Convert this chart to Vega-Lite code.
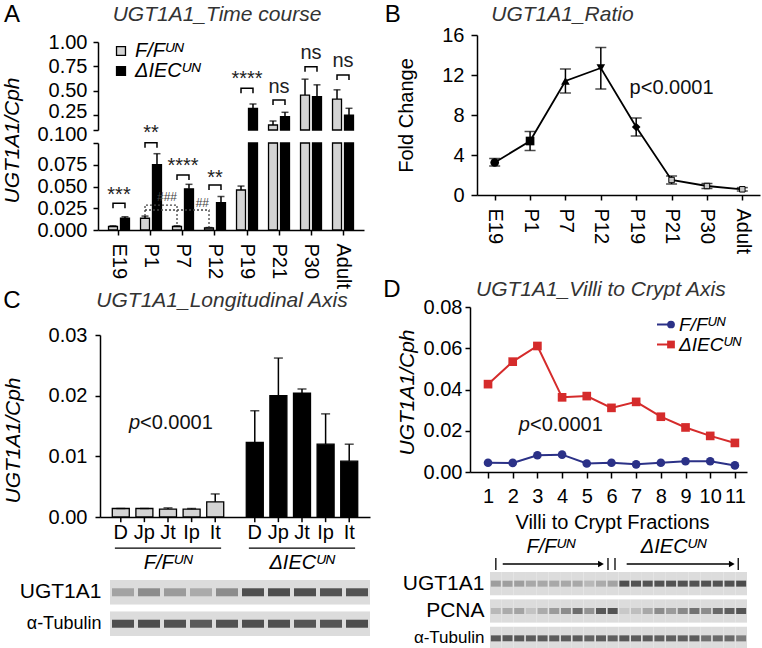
{
"$schema": "https://vega.github.io/schema/vega-lite/v6.json",
"width": 762, "height": 648,
"autosize": {"type": "none"},
"padding": 0,
"background": "#ffffff",
"config": {
  "view": {"stroke": null},
  "font": "Liberation Sans",
  "axis": {"labelFont": "Liberation Sans", "titleFont": "Liberation Sans", "labelFontSize": 20, "titleFontSize": 21, "titleFontWeight": "normal", "labelColor": "#000", "titleColor": "#000", "domainColor": "#000", "tickColor": "#000", "domainWidth": 1.5, "tickWidth": 1.5, "grid": false, "labelOverlap": false, "labelFlush": false},
  "text": {"font": "Liberation Sans"}
},
"datasets": {
  "a": [
    {"t":"E19","g":"F/F","v":0.004,"top":0.0048},
    {"t":"E19","g":"ΔIEC","v":0.0135,"top":0.0152},
    {"t":"P1","g":"F/F","v":0.0135,"top":0.016},
    {"t":"P1","g":"ΔIEC","v":0.075,"top":0.0877},
    {"t":"P7","g":"F/F","v":0.004,"top":0.0048},
    {"t":"P7","g":"ΔIEC","v":0.0473,"top":0.0525},
    {"t":"P12","g":"F/F","v":0.0023,"top":0.0028},
    {"t":"P12","g":"ΔIEC","v":0.0315,"top":0.0385},
    {"t":"P19","g":"F/F","v":0.046,"top":0.0505},
    {"t":"P19","g":"ΔIEC","v":0.322,"top":0.366},
    {"t":"P21","g":"F/F","v":0.151,"top":0.192},
    {"t":"P21","g":"ΔIEC","v":0.236,"top":0.281},
    {"t":"P30","g":"F/F","v":0.457,"top":0.62},
    {"t":"P30","g":"ΔIEC","v":0.44,"top":0.562},
    {"t":"Adult","g":"F/F","v":0.416,"top":0.511},
    {"t":"Adult","g":"ΔIEC","v":0.253,"top":0.322}
  ],
  "abr": [
    {"p":"lo","id":"E19","t":"E19","g":"F/F","y":0.025,"o":1},
    {"p":"lo","id":"E19","t":"E19","g":"F/F","y":0.0307,"o":2},
    {"p":"lo","id":"E19","t":"E19","g":"ΔIEC","y":0.0307,"o":3},
    {"p":"lo","id":"E19","t":"E19","g":"ΔIEC","y":0.025,"o":4},
    {"p":"lo","id":"P1","t":"P1","g":"F/F","y":0.0946,"o":1},
    {"p":"lo","id":"P1","t":"P1","g":"F/F","y":0.1003,"o":2},
    {"p":"lo","id":"P1","t":"P1","g":"ΔIEC","y":0.1003,"o":3},
    {"p":"lo","id":"P1","t":"P1","g":"ΔIEC","y":0.0946,"o":4},
    {"p":"lo","id":"P7","t":"P7","g":"F/F","y":0.0575,"o":1},
    {"p":"lo","id":"P7","t":"P7","g":"F/F","y":0.0632,"o":2},
    {"p":"lo","id":"P7","t":"P7","g":"ΔIEC","y":0.0632,"o":3},
    {"p":"lo","id":"P7","t":"P7","g":"ΔIEC","y":0.0575,"o":4},
    {"p":"lo","id":"P12","t":"P12","g":"F/F","y":0.046,"o":1},
    {"p":"lo","id":"P12","t":"P12","g":"F/F","y":0.0517,"o":2},
    {"p":"lo","id":"P12","t":"P12","g":"ΔIEC","y":0.0517,"o":3},
    {"p":"lo","id":"P12","t":"P12","g":"ΔIEC","y":0.046,"o":4},
    {"p":"up","id":"P19","t":"P19","g":"F/F","y":0.475,"o":1},
    {"p":"up","id":"P19","t":"P19","g":"F/F","y":0.526,"o":2},
    {"p":"up","id":"P19","t":"P19","g":"ΔIEC","y":0.526,"o":3},
    {"p":"up","id":"P19","t":"P19","g":"ΔIEC","y":0.475,"o":4},
    {"p":"up","id":"P21","t":"P21","g":"F/F","y":0.356,"o":1},
    {"p":"up","id":"P21","t":"P21","g":"F/F","y":0.407,"o":2},
    {"p":"up","id":"P21","t":"P21","g":"ΔIEC","y":0.407,"o":3},
    {"p":"up","id":"P21","t":"P21","g":"ΔIEC","y":0.356,"o":4},
    {"p":"up","id":"P30","t":"P30","g":"F/F","y":0.696,"o":1},
    {"p":"up","id":"P30","t":"P30","g":"F/F","y":0.747,"o":2},
    {"p":"up","id":"P30","t":"P30","g":"ΔIEC","y":0.747,"o":3},
    {"p":"up","id":"P30","t":"P30","g":"ΔIEC","y":0.696,"o":4},
    {"p":"up","id":"Adult","t":"Adult","g":"F/F","y":0.611,"o":1},
    {"p":"up","id":"Adult","t":"Adult","g":"F/F","y":0.662,"o":2},
    {"p":"up","id":"Adult","t":"Adult","g":"ΔIEC","y":0.662,"o":3},
    {"p":"up","id":"Adult","t":"Adult","g":"ΔIEC","y":0.611,"o":4}
  ],
  "ast": [
    {"p":"lo","t":"E19","y":0.0329,"s":"***"},
    {"p":"lo","t":"P1","y":0.1041,"s":"**"},
    {"p":"lo","t":"P7","y":0.0664,"s":"****"},
    {"p":"lo","t":"P12","y":0.053,"s":"**"},
    {"p":"up","t":"P19","y":0.556,"s":"****"},
    {"p":"up","t":"P21","y":0.481,"s":"ns"},
    {"p":"up","t":"P30","y":0.824,"s":"ns"},
    {"p":"up","t":"Adult","y":0.745,"s":"ns"}
  ],
  "adot": [
    {"id":"d1","t":"P1","g":"F/F","y":0.016,"o":1},
    {"id":"d1","t":"P1","g":"F/F","y":0.0287,"o":2},
    {"id":"d1","t":"P7","g":"F/F","y":0.0287,"o":3},
    {"id":"d1","t":"P7","g":"F/F","y":0.0048,"o":4},
    {"id":"d2","t":"P1","g":"F/F","y":0.023,"o":1},
    {"id":"d2","t":"P12","g":"F/F","y":0.023,"o":2},
    {"id":"d2","t":"P12","g":"F/F","y":0.0028,"o":3}
  ],
  "ahash": [
    {"t":"P7","g":"F/F","y":0.0383,"s":"###"},
    {"t":"P12","g":"F/F","y":0.0314,"s":"##"}
  ],
  "b": [
    {"t":"E19","v":3.25,"lo":2.9,"hi":3.65},
    {"t":"P1","v":5.4,"lo":4.45,"hi":6.35},
    {"t":"P7","v":11.4,"lo":10.2,"hi":12.6},
    {"t":"P12","v":12.7,"lo":10.6,"hi":14.75},
    {"t":"P19","v":6.8,"lo":5.9,"hi":7.7},
    {"t":"P21","v":1.5,"lo":1.1,"hi":1.9},
    {"t":"P30","v":0.9,"lo":0.65,"hi":1.15},
    {"t":"Adult","v":0.57,"lo":0.4,"hi":0.74}
  ],
  "c": [
    {"grp":"F/F","seg":"D","v":0.0014,"top":0.0014},
    {"grp":"F/F","seg":"Jp","v":0.0014,"top":0.0014},
    {"grp":"F/F","seg":"Jt","v":0.0013,"top":0.0015},
    {"grp":"F/F","seg":"Ip","v":0.0013,"top":0.0014},
    {"grp":"F/F","seg":"It","v":0.0025,"top":0.0038},
    {"grp":"ΔIEC","seg":"D","v":0.0123,"top":0.0175},
    {"grp":"ΔIEC","seg":"Jp","v":0.02,"top":0.0262},
    {"grp":"ΔIEC","seg":"Jt","v":0.0204,"top":0.0211},
    {"grp":"ΔIEC","seg":"Ip","v":0.012,"top":0.017},
    {"grp":"ΔIEC","seg":"It","v":0.0092,"top":0.012}
  ],
  "cgrp": [
    {"grp":"F/F","lab":"F/Fᵁᴺ"},
    {"grp":"ΔIEC","lab":"ΔIECᵁᴺ"}
  ],
  "d": [
    {"f":1,"g":"F/F","v":0.0045},{"f":2,"g":"F/F","v":0.0044},{"f":3,"g":"F/F","v":0.0081},{"f":4,"g":"F/F","v":0.0084},
    {"f":5,"g":"F/F","v":0.0041},{"f":6,"g":"F/F","v":0.0045},{"f":7,"g":"F/F","v":0.0037},{"f":8,"g":"F/F","v":0.0045},
    {"f":9,"g":"F/F","v":0.0052},{"f":10,"g":"F/F","v":0.0052},{"f":11,"g":"F/F","v":0.0032},
    {"f":1,"g":"ΔIEC","v":0.0426},{"f":2,"g":"ΔIEC","v":0.0535},{"f":3,"g":"ΔIEC","v":0.0611},{"f":4,"g":"ΔIEC","v":0.0362},
    {"f":5,"g":"ΔIEC","v":0.0368},{"f":6,"g":"ΔIEC","v":0.0311},{"f":7,"g":"ΔIEC","v":0.034},{"f":8,"g":"ΔIEC","v":0.0268},
    {"f":9,"g":"ΔIEC","v":0.0216},{"f":10,"g":"ΔIEC","v":0.0175},{"f":11,"g":"ΔIEC","v":0.0141}
  ],
  "bc": [
    {"lane":1,"row":"UGT1A1","i":0.35},{"lane":2,"row":"UGT1A1","i":0.5},{"lane":3,"row":"UGT1A1","i":0.4},{"lane":4,"row":"UGT1A1","i":0.3},{"lane":5,"row":"UGT1A1","i":0.5},
    {"lane":6,"row":"UGT1A1","i":0.95},{"lane":7,"row":"UGT1A1","i":0.96},{"lane":8,"row":"UGT1A1","i":0.95},{"lane":9,"row":"UGT1A1","i":0.92},{"lane":10,"row":"UGT1A1","i":0.92},
    {"lane":1,"row":"α-Tubulin","i":0.95},{"lane":2,"row":"α-Tubulin","i":0.96},{"lane":3,"row":"α-Tubulin","i":0.93},{"lane":4,"row":"α-Tubulin","i":0.86},{"lane":5,"row":"α-Tubulin","i":0.94},
    {"lane":6,"row":"α-Tubulin","i":0.95},{"lane":7,"row":"α-Tubulin","i":0.95},{"lane":8,"row":"α-Tubulin","i":0.9},{"lane":9,"row":"α-Tubulin","i":0.9},{"lane":10,"row":"α-Tubulin","i":0.96}
  ],
  "bd": [
    {"lane":1,"row":"UGT1A1","i":0.38},{"lane":2,"row":"UGT1A1","i":0.38},{"lane":3,"row":"UGT1A1","i":0.38},{"lane":4,"row":"UGT1A1","i":0.32},{"lane":5,"row":"UGT1A1","i":0.32},{"lane":6,"row":"UGT1A1","i":0.32},
    {"lane":7,"row":"UGT1A1","i":0.32},{"lane":8,"row":"UGT1A1","i":0.32},{"lane":9,"row":"UGT1A1","i":0.22},{"lane":10,"row":"UGT1A1","i":0.3},{"lane":11,"row":"UGT1A1","i":0.35},
    {"lane":12,"row":"UGT1A1","i":0.95},{"lane":13,"row":"UGT1A1","i":0.92},{"lane":14,"row":"UGT1A1","i":0.92},{"lane":15,"row":"UGT1A1","i":0.92},{"lane":16,"row":"UGT1A1","i":0.92},{"lane":17,"row":"UGT1A1","i":0.92},
    {"lane":18,"row":"UGT1A1","i":0.92},{"lane":19,"row":"UGT1A1","i":0.92},{"lane":20,"row":"UGT1A1","i":0.92},{"lane":21,"row":"UGT1A1","i":0.92},{"lane":22,"row":"UGT1A1","i":0.97},
    {"lane":1,"row":"PCNA","i":0.22},{"lane":2,"row":"PCNA","i":0.3},{"lane":3,"row":"PCNA","i":0.35},{"lane":4,"row":"PCNA","i":0.15},{"lane":5,"row":"PCNA","i":0.3},{"lane":6,"row":"PCNA","i":0.4},
    {"lane":7,"row":"PCNA","i":0.5},{"lane":8,"row":"PCNA","i":0.72},{"lane":9,"row":"PCNA","i":0.45},{"lane":10,"row":"PCNA","i":0.88},{"lane":11,"row":"PCNA","i":0.92},
    {"lane":12,"row":"PCNA","i":0.12},{"lane":13,"row":"PCNA","i":0.18},{"lane":14,"row":"PCNA","i":0.32},{"lane":15,"row":"PCNA","i":0.5},{"lane":16,"row":"PCNA","i":0.4},{"lane":17,"row":"PCNA","i":0.52},
    {"lane":18,"row":"PCNA","i":0.68},{"lane":19,"row":"PCNA","i":0.5},{"lane":20,"row":"PCNA","i":0.75},{"lane":21,"row":"PCNA","i":0.82},{"lane":22,"row":"PCNA","i":0.9},
    {"lane":1,"row":"α-Tubulin","i":0.88},{"lane":2,"row":"α-Tubulin","i":0.88},{"lane":3,"row":"α-Tubulin","i":0.88},{"lane":4,"row":"α-Tubulin","i":0.85},{"lane":5,"row":"α-Tubulin","i":0.85},{"lane":6,"row":"α-Tubulin","i":0.85},
    {"lane":7,"row":"α-Tubulin","i":0.85},{"lane":8,"row":"α-Tubulin","i":0.85},{"lane":9,"row":"α-Tubulin","i":0.8},{"lane":10,"row":"α-Tubulin","i":0.85},{"lane":11,"row":"α-Tubulin","i":0.82},
    {"lane":12,"row":"α-Tubulin","i":0.88},{"lane":13,"row":"α-Tubulin","i":0.85},{"lane":14,"row":"α-Tubulin","i":0.85},{"lane":15,"row":"α-Tubulin","i":0.82},{"lane":16,"row":"α-Tubulin","i":0.82},{"lane":17,"row":"α-Tubulin","i":0.82},
    {"lane":18,"row":"α-Tubulin","i":0.85},{"lane":19,"row":"α-Tubulin","i":0.7},{"lane":20,"row":"α-Tubulin","i":0.75},{"lane":21,"row":"α-Tubulin","i":0.75},{"lane":22,"row":"α-Tubulin","i":0.6}
  ],
  "arr": [{"x1":1.59,"x2":10.0},{"x1":12.2,"x2":21.2}],
  "bars": [{"bx":1.0},{"bx":10.6},{"bx":11.2},{"bx":21.75}],
  "alab": [{"lx":5.7,"lab":"F/Fᵁᴺ"},{"lx":16.2,"lab":"ΔIECᵁᴺ"}]
},
"resolve": {
  "scale": {"x": "independent", "y": "independent", "xOffset": "independent", "color": "independent", "fill": "independent", "stroke": "independent", "shape": "independent"},
  "axis": {"x": "independent", "y": "independent"},
  "legend": {"color": "independent", "fill": "independent", "stroke": "independent", "shape": "independent"}
},
"layer": [
  {
    "layer": [
      {"data": {"name": "a"}, "transform": [{"filter": "datum.v >= 0.1"}],
       "mark": {"type": "bar", "stroke": "#000", "strokeWidth": 1.3},
       "encoding": {
         "x": {"field": "t", "type": "nominal", "scale": {"domain": ["E19","P1","P7","P12","P19","P21","P30","Adult"], "range": [98, 364], "paddingInner": 0.3, "paddingOuter": 0.306}, "axis": null},
         "xOffset": {"field": "g", "type": "nominal", "scale": {"domain": ["F/F","ΔIEC"], "paddingInner": 0.25, "paddingOuter": 0.06}},
         "y": {"field": "v", "type": "quantitative", "scale": {"domain": [0.1, 1], "range": [130, 42], "nice": false, "zero": false},
               "axis": {"orient": "left", "offset": -98, "values": [0.1, 0.25, 0.5, 0.75, 1], "labelExpr": "datum.value < 0.2 ? '0.100' : format(datum.value, '.2f')", "tickSize": 5, "labelPadding": 6, "title": null,
                        "labelOffset": {"condition": [{"test": "datum.value < 0.2", "value": 4}, {"test": "datum.value < 0.3", "value": -4}], "value": 0}}},
         "y2": {"datum": 0.1},
         "fill": {"field": "g", "type": "nominal", "scale": {"domain": ["F/F","ΔIEC"], "range": ["#d4d4d4", "#000000"]},
                  "legend": {"orient": "none", "legendX": 111, "legendY": 41, "title": null, "symbolType": "square", "symbolSize": 80, "symbolStrokeColor": "#000", "symbolStrokeWidth": 1.3, "labelFontSize": 20, "labelFontStyle": "italic", "labelOffset": 4, "rowPadding": -1, "padding": 0, "labelExpr": "datum.label == 'F/F' ? 'F/Fᵁᴺ' : 'ΔIECᵁᴺ'"}}
       }},
      {"data": {"name": "a"}, "transform": [{"filter": "datum.v >= 0.1"}],
       "mark": {"type": "rule", "color": "#000", "strokeWidth": 1.5},
       "encoding": {"x": {"field": "t", "type": "nominal", "axis": null}, "xOffset": {"field": "g", "type": "nominal"}, "y": {"field": "v", "type": "quantitative"}, "y2": {"field": "top"}}},
      {"data": {"name": "a"}, "transform": [{"filter": "datum.v >= 0.1"}],
       "mark": {"type": "tick", "orient": "horizontal", "color": "#000", "size": 7, "thickness": 1.5},
       "encoding": {"x": {"field": "t", "type": "nominal", "axis": null}, "xOffset": {"field": "g", "type": "nominal"}, "y": {"field": "top", "type": "quantitative"}}},
      {"data": {"name": "abr"}, "transform": [{"filter": "datum.p == 'up'"}],
       "mark": {"type": "line", "color": "#000", "strokeWidth": 1.5},
       "encoding": {"x": {"field": "t", "type": "nominal", "axis": null}, "xOffset": {"field": "g", "type": "nominal"}, "y": {"field": "y", "type": "quantitative"}, "detail": {"field": "id"}, "order": {"field": "o", "type": "quantitative"}}},
      {"data": {"name": "ast"}, "transform": [{"filter": "datum.p == 'up'"}],
       "mark": {"type": "text", "fontSize": 20, "color": "#222", "baseline": "alphabetic"},
       "encoding": {"x": {"field": "t", "type": "nominal", "axis": null}, "y": {"field": "y", "type": "quantitative"}, "text": {"field": "s"}}},
      {"data": {"values": [{}]},
       "mark": {"type": "text", "text": "UGT1A1_Time course", "fontSize": 21, "fontStyle": "italic", "color": "#333", "baseline": "middle", "dx": 2},
       "encoding": {"x": {"datum": "P12", "axis": null}, "y": {"datum": 1.276}}},
      {"data": {"values": [{}]},
       "mark": {"type": "text", "text": "A", "fontSize": 24, "color": "#000", "baseline": "middle", "dx": -107},
       "encoding": {"x": {"datum": "E19", "axis": null}, "y": {"datum": 1.276}}}
    ]
  },
  {
    "layer": [
      {"data": {"name": "a"}, "transform": [{"filter": "datum.v < 0.1"}],
       "mark": {"type": "bar", "stroke": "#000", "strokeWidth": 1.3},
       "encoding": {
         "x": {"field": "t", "type": "nominal", "scale": {"domain": ["E19","P1","P7","P12","P19","P21","P30","Adult"], "range": [98, 364], "paddingInner": 0.3, "paddingOuter": 0.306},
               "axis": {"orient": "bottom", "offset": -418, "title": null, "labelAngle": 90, "labelAlign": "left", "labelBaseline": "middle", "tickSize": 5, "labelPadding": 8}},
         "xOffset": {"field": "g", "type": "nominal", "scale": {"domain": ["F/F","ΔIEC"], "paddingInner": 0.25, "paddingOuter": 0.06}},
         "y": {"field": "v", "type": "quantitative", "scale": {"domain": [0, 0.1], "range": [230, 143], "nice": false, "zero": false},
               "axis": {"orient": "left", "offset": -98, "values": [0, 0.025, 0.05, 0.075, 0.1], "labelExpr": "datum.value > 0.09 ? '' : format(datum.value, '.3f')", "tickSize": 5, "labelPadding": 6, "title": "UGT1A1/Cph", "titleFontStyle": "italic", "titleX": -86, "titleY": 140, "titleAngle": -90, "titleAlign": "center", "titleBaseline": "middle"}},
         "y2": {"datum": 0},
         "fill": {"field": "g", "type": "nominal", "scale": {"domain": ["F/F","ΔIEC"], "range": ["#d4d4d4", "#000000"]}, "legend": null}
       }},
      {"data": {"name": "a"}, "transform": [{"filter": "datum.v >= 0.1"}],
       "mark": {"type": "bar", "stroke": "#000", "strokeWidth": 1.3},
       "encoding": {
         "x": {"field": "t", "type": "nominal"},
         "xOffset": {"field": "g", "type": "nominal"},
         "y": {"datum": 0.1}, "y2": {"datum": 0},
         "fill": {"field": "g", "type": "nominal", "legend": null}
       }},
      {"data": {"name": "a"}, "transform": [{"filter": "datum.v < 0.1"}],
       "mark": {"type": "rule", "color": "#000", "strokeWidth": 1.5},
       "encoding": {"x": {"field": "t", "type": "nominal"}, "xOffset": {"field": "g", "type": "nominal"}, "y": {"field": "v", "type": "quantitative"}, "y2": {"field": "top"}}},
      {"data": {"name": "a"}, "transform": [{"filter": "datum.v < 0.1"}],
       "mark": {"type": "tick", "orient": "horizontal", "color": "#000", "size": 7, "thickness": 1.5},
       "encoding": {"x": {"field": "t", "type": "nominal"}, "xOffset": {"field": "g", "type": "nominal"}, "y": {"field": "top", "type": "quantitative"}}},
      {"data": {"name": "abr"}, "transform": [{"filter": "datum.p == 'lo'"}],
       "mark": {"type": "line", "color": "#000", "strokeWidth": 1.5},
       "encoding": {"x": {"field": "t", "type": "nominal"}, "xOffset": {"field": "g", "type": "nominal"}, "y": {"field": "y", "type": "quantitative"}, "detail": {"field": "id"}, "order": {"field": "o", "type": "quantitative"}}},
      {"data": {"name": "adot"},
       "mark": {"type": "line", "color": "#444", "strokeWidth": 1.3, "strokeDash": [2, 2]},
       "encoding": {"x": {"field": "t", "type": "nominal"}, "xOffset": {"field": "g", "type": "nominal"}, "y": {"field": "y", "type": "quantitative"}, "detail": {"field": "id"}, "order": {"field": "o", "type": "quantitative"}}},
      {"data": {"name": "ast"}, "transform": [{"filter": "datum.p == 'lo'"}],
       "mark": {"type": "text", "fontSize": 20, "color": "#222", "baseline": "alphabetic"},
       "encoding": {"x": {"field": "t", "type": "nominal"}, "y": {"field": "y", "type": "quantitative"}, "text": {"field": "s"}}},
      {"data": {"name": "ahash"},
       "mark": {"type": "text", "fontSize": 12, "color": "#444", "align": "right", "baseline": "middle"},
       "encoding": {"x": {"field": "t", "type": "nominal"}, "xOffset": {"field": "g", "type": "nominal"}, "y": {"field": "y", "type": "quantitative"}, "text": {"field": "s"}}}
    ]
  },
  {
    "layer": [
      {"data": {"name": "b"},
       "mark": {"type": "line", "color": "#000", "strokeWidth": 1.8},
       "encoding": {
         "x": {"field": "t", "type": "nominal", "scale": {"type": "point", "domain": ["E19","P1","P7","P12","P19","P21","P30","Adult"], "range": [477, 760], "padding": 0.5},
               "axis": {"orient": "bottom", "offset": -453, "title": null, "labelAngle": 90, "labelAlign": "left", "labelBaseline": "middle", "tickSize": 5, "labelPadding": 8}},
         "y": {"field": "v", "type": "quantitative", "scale": {"domain": [0, 16], "range": [195, 35], "nice": false},
               "axis": {"orient": "left", "offset": -477, "values": [0, 4, 8, 12, 16], "tickSize": 6, "labelPadding": 7, "title": "Fold Change", "titleFontSize": 20, "titleX": -71, "titleY": 115, "titleAngle": -90, "titleAlign": "center", "titleBaseline": "middle"}}
       }},
      {"data": {"name": "b"},
       "mark": {"type": "rule", "color": "#000", "strokeWidth": 1.5},
       "encoding": {"x": {"field": "t", "type": "nominal"}, "y": {"field": "lo", "type": "quantitative"}, "y2": {"field": "hi"}}},
      {"data": {"name": "b"},
       "mark": {"type": "tick", "orient": "horizontal", "color": "#000", "size": 11, "thickness": 1.5},
       "encoding": {"x": {"field": "t", "type": "nominal"}, "y": {"field": "lo", "type": "quantitative"}}},
      {"data": {"name": "b"},
       "mark": {"type": "tick", "orient": "horizontal", "color": "#000", "size": 11, "thickness": 1.5},
       "encoding": {"x": {"field": "t", "type": "nominal"}, "y": {"field": "hi", "type": "quantitative"}}},
      {"data": {"name": "b"}, "transform": [{"filter": "indexof(['P21','P30','Adult'], datum.t) < 0"}],
       "mark": {"type": "point", "filled": true, "opacity": 1, "color": "#000", "size": 75},
       "encoding": {"x": {"field": "t", "type": "nominal"}, "y": {"field": "v", "type": "quantitative"},
                    "shape": {"field": "t", "type": "nominal", "scale": {"domain": ["E19","P1","P7","P12","P19"], "range": ["circle","square","triangle-up","triangle-down","diamond"]}, "legend": null}}},
      {"data": {"name": "b"}, "transform": [{"filter": "indexof(['P21','P30','Adult'], datum.t) >= 0"}],
       "mark": {"type": "square", "filled": true, "opacity": 1, "fill": "#c8c8c8", "stroke": "#000", "strokeWidth": 1, "size": 30},
       "encoding": {"x": {"field": "t", "type": "nominal"}, "y": {"field": "v", "type": "quantitative"}}},
      {"data": {"values": [{}]},
       "mark": {"type": "text", "text": "p<0.0001", "fontSize": 20, "color": "#111", "baseline": "middle"},
       "encoding": {"x": {"datum": "P21"}, "y": {"datum": 10.7}}},
      {"data": {"values": [{}]},
       "mark": {"type": "text", "text": "UGT1A1_Ratio", "fontSize": 21, "fontStyle": "italic", "color": "#333", "baseline": "middle", "dx": -3},
       "encoding": {"x": {"datum": "P7"}, "y": {"datum": 18}}},
      {"data": {"values": [{}]},
       "mark": {"type": "text", "text": "B", "fontSize": 24, "color": "#000", "baseline": "middle", "dx": -102},
       "encoding": {"x": {"datum": "E19"}, "y": {"datum": 18}}}
    ]
  },
  {
    "layer": [
      {"data": {"name": "c"},
       "mark": {"type": "bar", "stroke": "#000", "strokeWidth": 1.3},
       "encoding": {
         "x": {"field": "grp", "type": "nominal", "scale": {"domain": ["F/F","ΔIEC"], "range": [100, 370], "paddingInner": 0.119, "paddingOuter": 0.067},
               "axis": {"orient": "bottom", "offset": -131, "labels": false, "ticks": false, "title": null}},
         "xOffset": {"field": "seg", "type": "nominal", "scale": {"domain": ["D","Jp","Jt","Ip","It"], "paddingInner": 0.28, "paddingOuter": 0.14}},
         "y": {"field": "v", "type": "quantitative", "scale": {"domain": [0, 0.03], "range": [517, 335], "nice": false},
               "axis": {"orient": "left", "offset": -100, "values": [0, 0.01, 0.02, 0.03], "format": ".2f", "tickSize": 5, "labelPadding": 8, "title": "UGT1A1/Cph", "titleFontStyle": "italic", "titleX": -87, "titleY": 440, "titleAngle": -90, "titleAlign": "center", "titleBaseline": "middle"}},
         "y2": {"datum": 0},
         "fill": {"field": "grp", "type": "nominal", "scale": {"domain": ["F/F","ΔIEC"], "range": ["#d4d4d4", "#000000"]}, "legend": null}
       }},
      {"data": {"name": "c"},
       "mark": {"type": "rule", "color": "#000", "strokeWidth": 1.5},
       "encoding": {"x": {"field": "grp", "type": "nominal"}, "xOffset": {"field": "seg", "type": "nominal"}, "y": {"field": "v", "type": "quantitative"}, "y2": {"field": "top"}}},
      {"data": {"name": "c"},
       "mark": {"type": "tick", "orient": "horizontal", "color": "#000", "size": 9, "thickness": 1.5},
       "encoding": {"x": {"field": "grp", "type": "nominal"}, "xOffset": {"field": "seg", "type": "nominal"}, "y": {"field": "top", "type": "quantitative"}}},
      {"data": {"name": "c"},
       "mark": {"type": "rule", "color": "#000", "strokeWidth": 1.5},
       "encoding": {"x": {"field": "grp", "type": "nominal"}, "xOffset": {"field": "seg", "type": "nominal"}, "y": {"datum": 0}, "y2": {"datum": -0.00085}}},
      {"data": {"name": "c"},
       "mark": {"type": "text", "fontSize": 20, "color": "#000", "baseline": "middle"},
       "encoding": {"x": {"field": "grp", "type": "nominal"}, "xOffset": {"field": "seg", "type": "nominal"}, "y": {"datum": -0.0027}, "text": {"field": "seg"}}},
      {"data": {"name": "cgrp"},
       "mark": {"type": "bar", "color": "#000", "width": {"band": 0.9}},
       "encoding": {"x": {"field": "grp", "type": "nominal"}, "y": {"datum": -0.00502}, "y2": {"datum": -0.00524}}},
      {"data": {"name": "cgrp"},
       "mark": {"type": "text", "fontSize": 20, "fontStyle": "italic", "color": "#000", "baseline": "middle"},
       "encoding": {"x": {"field": "grp", "type": "nominal"}, "y": {"datum": -0.0076}, "text": {"field": "lab"}}},
      {"data": {"values": [{}]},
       "mark": {"type": "text", "text": "p", "fontSize": 20, "fontStyle": "italic", "align": "right", "baseline": "middle", "color": "#111", "dx": -28},
       "encoding": {"x": {"datum": "F/F"}, "y": {"datum": 0.0155}}},
      {"data": {"values": [{}]},
       "mark": {"type": "text", "text": "<0.0001", "fontSize": 20, "align": "left", "baseline": "middle", "color": "#111", "dx": -28},
       "encoding": {"x": {"datum": "F/F"}, "y": {"datum": 0.0155}}},
      {"data": {"values": [{}]},
       "mark": {"type": "text", "text": "UGT1A1_Longitudinal Axis", "fontSize": 21, "fontStyle": "italic", "color": "#333", "baseline": "middle", "dx": 54},
       "encoding": {"x": {"datum": "F/F"}, "y": {"datum": 0.0356}}},
      {"data": {"values": [{}]},
       "mark": {"type": "text", "text": "C", "fontSize": 24, "color": "#000", "baseline": "middle", "dx": -156},
       "encoding": {"x": {"datum": "F/F"}, "y": {"datum": 0.0356}}}
    ]
  },
  {
    "layer": [
      {"data": {"name": "d"},
       "mark": {"type": "line", "strokeWidth": 2},
       "encoding": {
         "x": {"field": "f", "type": "quantitative", "scale": {"domain": [0.27, 11.49], "range": [470, 747], "nice": false, "zero": false},
               "axis": {"orient": "bottom", "offset": -176, "values": [1,2,3,4,5,6,7,8,9,10,11], "format": "d", "tickSize": 6, "labelPadding": 8, "title": "Villi to Crypt Fractions", "titleFontSize": 20, "titleX": 612, "titleY": 50, "titleBaseline": "middle", "titleAlign": "center"}},
         "y": {"field": "v", "type": "quantitative", "scale": {"domain": [0, 0.08], "range": [472, 307], "nice": false},
               "axis": {"orient": "left", "offset": -470, "values": [0, 0.02, 0.04, 0.06, 0.08], "format": ".2f", "tickSize": 5, "labelPadding": 3, "title": "UGT1A1/Cph", "titleFontStyle": "italic", "titleX": -63, "titleY": 392, "titleAngle": -90, "titleAlign": "center", "titleBaseline": "middle"}},
         "stroke": {"field": "g", "type": "nominal", "scale": {"domain": ["F/F","ΔIEC"], "range": ["#2b3187", "#d52b2b"]},
                    "legend": {"orient": "none", "legendX": 656, "legendY": 315, "title": null, "symbolType": "stroke", "symbolSize": 289, "symbolStrokeWidth": 2, "labelFontSize": 19, "labelFontStyle": "italic", "labelOffset": 4, "rowPadding": -4, "padding": 0, "labelExpr": "datum.label == 'F/F' ? 'F/Fᵁᴺ' : 'ΔIECᵁᴺ'"}}
       }},
      {"data": {"name": "d"},
       "mark": {"type": "point", "filled": true, "opacity": 1, "size": 75},
       "encoding": {
         "x": {"field": "f", "type": "quantitative"},
         "y": {"field": "v", "type": "quantitative"},
         "color": {"field": "g", "type": "nominal", "scale": {"range": ["#2b3187", "#d52b2b"]},
                   "legend": {"orient": "none", "legendX": 661.5, "legendY": 315, "title": null, "symbolSize": 60, "labelFontSize": 19, "labelOpacity": 0, "labelOffset": 4, "rowPadding": -4, "padding": 0, "labelExpr": "' '"}},
         "shape": {"field": "g", "type": "nominal", "scale": {"range": ["circle", "square"]},
                   "legend": {"orient": "none", "legendX": 661.5, "legendY": 315, "title": null, "symbolSize": 60, "labelFontSize": 19, "labelOpacity": 0, "labelOffset": 4, "rowPadding": -4, "padding": 0, "labelExpr": "' '"}}
       }},
      {"data": {"values": [{}]},
       "mark": {"type": "text", "text": "p", "fontSize": 20, "fontStyle": "italic", "align": "right", "baseline": "middle", "color": "#111"},
       "encoding": {"x": {"datum": 2.7}, "y": {"datum": 0.0228}}},
      {"data": {"values": [{}]},
       "mark": {"type": "text", "text": "<0.0001", "fontSize": 20, "align": "left", "baseline": "middle", "color": "#111"},
       "encoding": {"x": {"datum": 2.7}, "y": {"datum": 0.0228}}},
      {"data": {"values": [{}]},
       "mark": {"type": "text", "text": "UGT1A1_Villi to Crypt Axis", "fontSize": 21, "fontStyle": "italic", "color": "#333", "baseline": "middle"},
       "encoding": {"x": {"datum": 5.57}, "y": {"datum": 0.0882}}},
      {"data": {"values": [{}]},
       "mark": {"type": "text", "text": "D", "fontSize": 24, "color": "#000", "baseline": "middle"},
       "encoding": {"x": {"datum": -2.89}, "y": {"datum": 0.0882}}}
    ]
  },
  {
    "data": {"name": "bc"},
    "layer": [
      {"mark": {"type": "rect", "color": "#dcdcdc"},
       "encoding": {
         "x": {"field": "lane", "type": "ordinal", "scale": {"range": [110, 370], "paddingInner": 0, "paddingOuter": 0}, "axis": null},
         "y": {"field": "row", "type": "nominal", "scale": {"domain": ["UGT1A1", "α-Tubulin"], "range": [580, 636], "paddingInner": 0.22, "paddingOuter": 0},
               "axis": {"orient": "left", "offset": -110, "domain": false, "ticks": false, "labelPadding": 9, "title": null, "labelFontSize": {"condition": {"test": "datum.value == 'UGT1A1'", "value": 21}, "value": 18}}}
       }},
      {"mark": {"type": "tick", "orient": "horizontal", "thickness": 8, "size": 22},
       "encoding": {
         "x": {"field": "lane", "type": "ordinal", "axis": null},
         "y": {"field": "row", "type": "nominal"},
         "color": {"field": "i", "type": "quantitative", "scale": {"domain": [0, 1], "range": ["#dcdcdc", "#050505"]}, "legend": null}
       }}
    ]
  },
  {
    "data": {"name": "bd"},
    "layer": [
      {"mark": {"type": "rect", "color": "#dcdcdc"},
       "encoding": {
         "x": {"field": "lane", "type": "ordinal", "scale": {"range": [490, 747], "paddingInner": 0, "paddingOuter": 0}, "axis": null},
         "y": {"field": "row", "type": "nominal", "scale": {"domain": ["UGT1A1", "PCNA", "α-Tubulin"], "range": [572, 650], "paddingInner": 0.15, "paddingOuter": 0},
               "axis": {"orient": "left", "offset": -490, "domain": false, "ticks": false, "labelPadding": 6, "title": null, "labelFontSize": {"condition": {"test": "datum.value == 'α-Tubulin'", "value": 17}, "value": 21}}}
       }},
      {"mark": {"type": "tick", "orient": "horizontal", "thickness": 6, "size": 10},
       "encoding": {
         "x": {"field": "lane", "type": "ordinal", "axis": null},
         "y": {"field": "row", "type": "nominal"},
         "color": {"field": "i", "type": "quantitative", "scale": {"domain": [0, 1], "range": ["#dcdcdc", "#050505"]}, "legend": null}
       }}
    ]
  },
  {
    "layer": [
      {"data": {"name": "arr"},
       "mark": {"type": "rule", "color": "#000", "strokeWidth": 1.5},
       "encoding": {
         "x": {"field": "x1", "type": "quantitative", "scale": {"domain": [0.5, 22.5], "range": [490, 747], "nice": false, "zero": false}, "axis": null},
         "x2": {"field": "x2"},
         "y": {"datum": 0.25, "scale": {"domain": [0, 1], "range": [572, 540], "nice": false, "zero": false}, "axis": null}
       }},
      {"data": {"name": "arr"},
       "mark": {"type": "point", "shape": "triangle-right", "filled": true, "opacity": 1, "color": "#000", "size": 45},
       "encoding": {"x": {"field": "x2", "type": "quantitative", "axis": null}, "y": {"datum": 0.25, "axis": null}}},
      {"data": {"name": "bars"},
       "mark": {"type": "rule", "color": "#000", "strokeWidth": 1.3},
       "encoding": {"x": {"field": "bx", "type": "quantitative", "axis": null}, "y": {"datum": 0.06, "axis": null}, "y2": {"datum": 0.44}}},
      {"data": {"name": "alab"},
       "mark": {"type": "text", "fontSize": 20, "fontStyle": "italic", "color": "#000", "baseline": "middle"},
       "encoding": {"x": {"field": "lx", "type": "quantitative", "axis": null}, "y": {"datum": 0.78, "axis": null}, "text": {"field": "lab"}}}
    ]
  }
]
}
